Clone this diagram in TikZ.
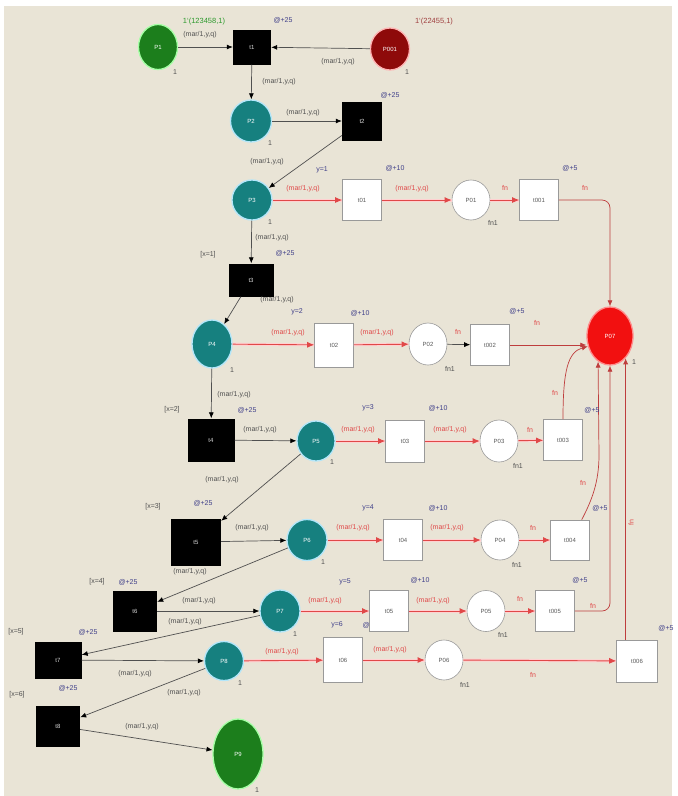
\documentclass[tikz,border=0pt]{standalone}
\usepackage{fontspec}
\setsansfont{Liberation Sans}
\usetikzlibrary{shapes.geometric,arrows.meta}
\definecolor{bgc}{HTML}{E9E4D6}
\definecolor{tealc}{HTML}{16807F}
\definecolor{greenc}{HTML}{1C7E1C}
\definecolor{dredc}{HTML}{8E0A0A}
\definecolor{redc}{HTML}{F21010}
\definecolor{arcred}{HTML}{E04848}
\definecolor{labblue}{HTML}{40408A}
\definecolor{labgray}{HTML}{505050}
\definecolor{lgreen}{HTML}{2E9A2E}
\definecolor{lbrown}{HTML}{A04040}
\begin{document}
\begin{tikzpicture}[x=1pt,y=-1pt,
  every node/.style={font=\sffamily\fontsize{7}{8}\selectfont, inner sep=0pt},
  place/.style={ellipse, minimum width=40pt, minimum height=42pt, text=white, line width=1.3pt, font=\sffamily\fontsize{6}{7}\selectfont},
  tplace/.style={place, fill=tealc, draw=cyan!30},
  gplace/.style={place, fill=greenc, draw=green!35},
  dplace/.style={place, fill=dredc, draw=red!30},
  rplace/.style={place, fill=redc, draw=red!45},
  wplace/.style={ellipse, minimum width=38pt, minimum height=40pt, fill=white, draw=gray!80, line width=0.6pt, text=gray!70!black, font=\sffamily\fontsize{6}{7}\selectfont},
  btr/.style={rectangle, fill=black, minimum width=42pt, minimum height=38pt, text=white!85!black, font=\sffamily\fontsize{6}{7}\selectfont},
  wtr/.style={rectangle, fill=white, draw=gray!80, line width=0.6pt, minimum width=39pt, minimum height=41pt, text=gray!70!black, font=\sffamily\fontsize{6}{7}\selectfont},
  barc/.style={draw=labgray, line width=0.7pt, -{Latex[length=6pt,width=5pt,black]}},
  rarc/.style={draw=arcred, line width=0.9pt, -{Latex[length=7pt,width=6pt]}, preaction={draw=red!18, line width=3pt, -}},
  parc/.style={draw=arcred!85!black, line width=0.7pt, -{Latex[length=6pt,width=5pt]}},
  blab/.style={text=labgray},
  rlab/.style={text=arcred},
  ulab/.style={text=labblue},
  glab/.style={text=labgray}
]
\useasboundingbox (0,0) rectangle (678,796);
\fill[bgc] (4,6) rectangle (672,796);

% label partly hidden behind t05
\node[ulab] (u06) at (372,625) {@+10};

% places
\node[gplace, minimum width=39pt, minimum height=45pt] (P1) at (158,47) {P1};
\node[dplace, minimum width=39pt, minimum height=42pt] (P001) at (390,49) {P001};
\node[tplace, minimum width=41pt, minimum height=42pt] (P2) at (251,121) {P2};
\node[tplace, minimum width=40pt, minimum height=40pt] (P3) at (252,200) {P3};
\node[tplace, minimum width=40pt, minimum height=48pt] (P4) at (212,344) {P4};
\node[tplace, minimum width=38pt, minimum height=40pt] (P5) at (316,441) {P5};
\node[tplace, minimum width=40pt, minimum height=41pt] (P6) at (307,540) {P6};
\node[tplace, minimum width=40pt, minimum height=42pt] (P7) at (280,611) {P7};
\node[tplace, minimum width=39pt, minimum height=39pt] (P8) at (224,661) {P8};
\node[gplace, minimum width=50pt, minimum height=70pt] (P9) at (238,754) {P9};
\node[rplace, minimum width=46pt, minimum height=58pt] (P07) at (610,336) {P07};
\node[wplace] (P01) at (471,200) {P01};
\node[wplace, minimum height=42pt] (P02) at (428,344) {P02};
\node[wplace, minimum height=42pt] (P03) at (499,441) {P03};
\node[wplace] (P04) at (500,540) {P04};
\node[wplace, minimum height=41pt] (P05) at (486,611) {P05};
\node[wplace] (P06) at (444,660) {P06};

% transitions
\node[btr, minimum width=38pt, minimum height=35pt] (t1) at (252,47) {t1};
\node[btr, minimum width=40pt, minimum height=39pt] (t2) at (362,121) {t2};
\node[btr, minimum width=45pt, minimum height=33pt] (t3) at (251,280) {t3};
\node[btr, minimum width=47pt, minimum height=43pt] (t4) at (211,440) {t4};
\node[btr, minimum width=50pt, minimum height=47pt] (t5) at (196,542) {t5};
\node[btr, minimum width=44pt, minimum height=41pt] (t6) at (135,611) {t6};
\node[btr, minimum width=47pt, minimum height=37pt] (t7) at (58,660) {t7};
\node[btr, minimum width=44pt, minimum height=41pt] (t8) at (58,726) {t8};
\node[wtr] (t01) at (362,200) {t01};
\node[wtr, minimum height=44pt] (t02) at (334,345) {t02};
\node[wtr, minimum height=42pt] (t03) at (405,441) {t03};
\node[wtr] (t04) at (403,540) {t04};
\node[wtr] (t05) at (389,611) {t05};
\node[wtr, minimum height=45pt] (t06) at (343,660) {t06};
\node[wtr] (t001) at (539,200) {t001};
\node[wtr] (t002) at (490,345) {t002};
\node[wtr] (t003) at (563,440) {t003};
\node[wtr, minimum height=40pt] (t004) at (570,540) {t004};
\node[wtr] (t005) at (555,611) {t005};
\node[wtr, minimum width=41pt, minimum height=42pt] (t006) at (637,661) {t006};

% black arcs
\draw[barc] (P1) -- (t1);
\draw[barc] (P001) -- (t1);
\draw[barc] (t1) -- (P2);
\draw[barc] (P2) -- (t2);
\draw[barc] (t2) -- (P3);
\draw[barc] (P3) -- (t3);
\draw[barc] (t3) -- (P4);
\draw[barc] (P4) -- (t4);
\draw[barc] (t4) -- (P5);
\draw[barc] (P5) -- (t5);
\draw[barc] (t5) -- (P6);
\draw[barc] (P6) -- (t6);
\draw[barc] (t6) -- (P7);
\draw[barc] (P7) -- (t7);
\draw[barc] (t7) -- (P8);
\draw[barc] (P8) -- (t8);
\draw[barc] (t8) -- (P9);
\draw[barc] (P02) -- (t002);

% red arcs
\draw[rarc] (P3) -- (t01);
\draw[rarc] (t01) -- (P01);
\draw[rarc] (P01) -- (t001);
\draw[rarc] (P4) -- (t02);
\draw[rarc] (t02) -- (P02);
\draw[rarc] (P5) -- (t03);
\draw[rarc] (t03) -- (P03);
\draw[rarc] (P03) -- (t003);
\draw[rarc] (P6) -- (t04);
\draw[rarc] (t04) -- (P04);
\draw[rarc] (P04) -- (t004);
\draw[rarc] (P7) -- (t05);
\draw[rarc] (t05) -- (P05);
\draw[rarc] (P05) -- (t005);
\draw[rarc] (P8) -- (t06);
\draw[rarc] (t06) -- (P06);
\draw[rarc] (P06) -- (t006);

% arcs into P07
\draw[parc, rounded corners=8pt] (t001) -| (P07);
\draw[parc] (t002.east) -- (t002.east -| P07.west);
\draw[parc] (t003.north) .. controls (563,370) and (568,352) .. (P07.205);
\draw[parc] (t004.60) .. controls (592,500) and (599,482) .. (599,455) -- (P07.-115);
\draw[parc, rounded corners=8pt] (t005) -| (P07);
\draw[parc] (P07.-55 |- t006.north) -- (P07.-55);

% initial markings
\node[text=lgreen, font=\sffamily\fontsize{7.5}{8}\selectfont] (m1) at (204,22) {1`(123458,1)};
\node[text=lbrown, font=\sffamily\fontsize{7.5}{8}\selectfont] (m2) at (434,22) {1`(22455,1)};

% black arc inscriptions
\foreach \x/\y/\n in {200/35/1, 338/62/2, 279/82/3, 303/113/4, 267/162/5, 272/238/6,
  277/300/7, 234/395/8, 260/430/9, 222/480/10, 252/528/11, 190/572/12, 199/601/13,
  185/622/14, 135/674/15, 184/693/16, 142/727/17}
  \node[blab] (a\n) at (\x,\y) {(mar/1,y,q)};

% red arc inscriptions
\foreach \x/\y/\n in {303/189/1, 412/189/2, 288/333/5, 377/333/6, 358/430/9, 450/430/10,
  353/528/13, 447/528/14, 325/601/17, 433/601/18, 282/652/21, 390/650/22}
  \node[rlab] (r\n) at (\x,\y) {(mar/1,y,q)};
\foreach \x/\y/\n in {505/188/3, 585/188/4, 458/332/7, 537/323/8, 530/430/11, 555/393/12,
  533/528/15, 583/483/16, 520/599/19, 593/606/20, 533/675/23}
  \node[rlab] (f\n) at (\x,\y) {fn};
\node[rlab, rotate=90] (f24) at (631,523) {fn};

% delays
\foreach \x/\y/\n in {283/20/1, 390/95/2, 285/253/3, 247/410/4, 203/503/5, 128/582/6, 88/632/7, 68/688/8}
  \node[ulab] (d\n) at (\x,\y) {@+25};
\foreach \x/\y/\n in {395/168/1, 360/313/2, 438/408/3, 438/508/4, 420/580/5}
  \node[ulab] (e\n) at (\x,\y) {@+10};
\foreach \x/\y/\n in {570/168/1, 517/311/2, 592/410/3, 600/508/4, 580/580/5, 666/628/6}
  \node[ulab] (g\n) at (\x,\y) {@+5};

% code / guards
\foreach \x/\y/\n in {322/170/1, 297/312/2, 368/408/3, 368/508/4, 345/582/5, 337/625/6}
  \node[ulab] (y\n) at (\x,\y) {y=\n};
\foreach \x/\y/\n in {208/255/1, 172/410/2, 153/507/3, 97/582/4, 16/632/5, 17/695/6}
  \node[glab] (x\n) at (\x,\y) {[x=\n]};

% place annotations
\foreach \x/\y/\n in {175/72/1, 407/72/2, 270/143/3, 270/222/4, 232/370/5, 332/462/6,
  323/562/7, 295/634/8, 240/683/9, 257/790/10, 634/362/11}
  \node[glab] (o\n) at (\x,\y) {1};
\foreach \x/\y/\n in {493/223/1, 450/369/2, 518/466/3, 517/565/4, 503/635/5, 465/685/6}
  \node[glab] (h\n) at (\x,\y) {fn1};
\end{tikzpicture}
\end{document}
